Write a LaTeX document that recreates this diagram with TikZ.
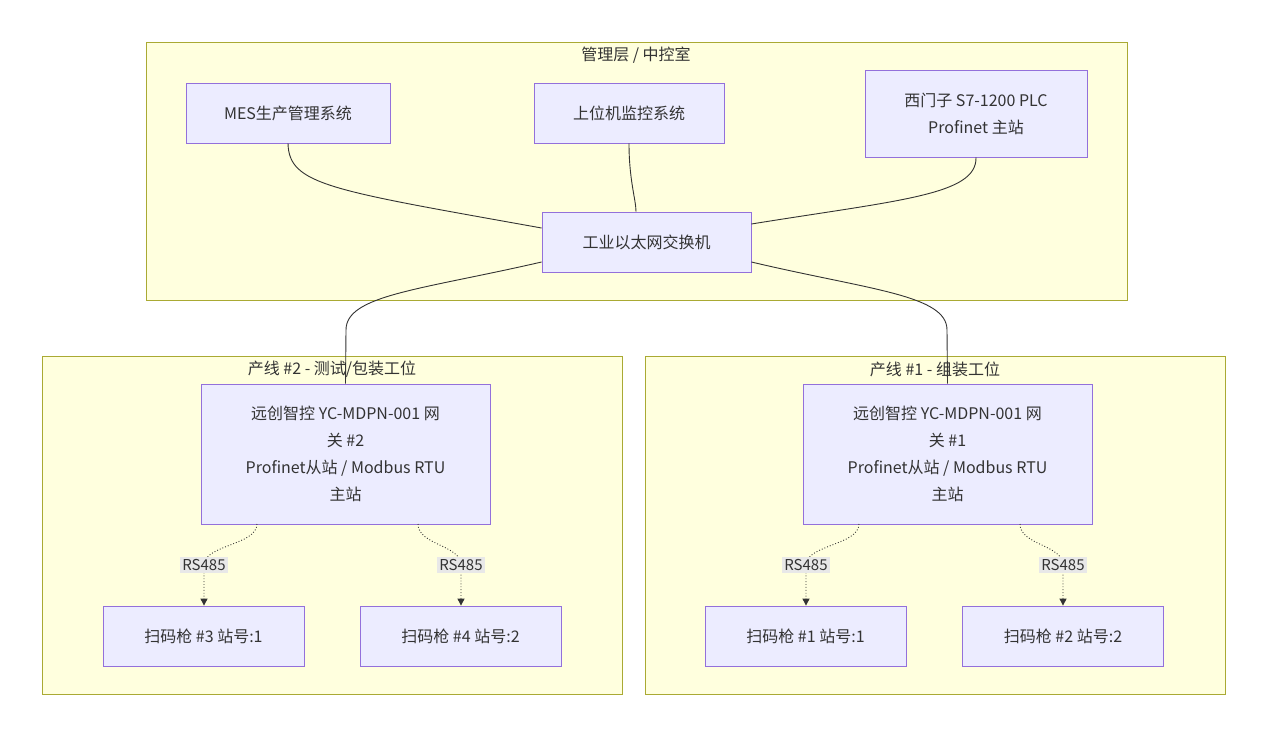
\documentclass[tikz,border=0pt]{standalone}
\usepackage{fontspec}
\setmainfont{Noto Sans CJK SC}
\usetikzlibrary{arrows.meta}
\definecolor{cf}{HTML}{FFFFDE}\definecolor{cs}{HTML}{AAAA33}
\definecolor{nf}{HTML}{ECECFF}\definecolor{ns}{HTML}{9370DB}
\definecolor{tx}{HTML}{333333}\definecolor{lb}{HTML}{E8E8E8}
\begin{document}
\begin{tikzpicture}[x=1pt,y=-1pt,
 clu/.style={draw=cs,fill=cf,line width=0.8pt},
 nd/.style={draw=ns,fill=nf,line width=0.8pt,text=tx,font=\fontsize{16}{27}\selectfont,align=center},
 tt/.style={text=tx,font=\fontsize{16}{20}\selectfont},
 ln/.style={draw=tx,line width=0.9pt},
 dl/.style={draw=tx,line width=0.9pt,dotted,-{Triangle[length=7pt,width=7pt]}},
 lab/.style={fill=lb,text=tx,font=\fontsize{15}{18}\selectfont,inner sep=2pt}]
\useasboundingbox (0,0) rectangle (1267,737);
\fill[white] (0,0) rectangle (1267,737);
\draw[clu] (146,42) rectangle (1127,300);
\draw[clu] (42,356) rectangle (622,694);
\draw[clu] (645,356) rectangle (1225,694);
\node[tt] (t0) at (636,55) {管理层 / 中控室};
\node[tt] (t2) at (332,369) {产线 \#2 - 测试/包装工位};
\node[tt] (t1) at (935,369) {产线 \#1 - 组装工位};
\node[nd,minimum width=204pt,minimum height=60pt] (mes) at (288,113) {MES生产管理系统};
\node[nd,minimum width=190pt,minimum height=60pt] (hmi) at (629,113) {上位机监控系统};
\node[nd,minimum width=222pt,minimum height=87pt] (plc) at (976,113.5) {西门子 S7-1200 PLC\\Profinet 主站};
\node[nd,minimum width=209pt,minimum height=60pt] (sw) at (646.5,242) {工业以太网交换机};
\node[nd,minimum width=289pt,minimum height=140pt] (g2) at (345.5,454) {远创智控 YC-MDPN-001 网\\关 \#2\\Profinet从站 / Modbus RTU\\主站};
\node[nd,minimum width=289pt,minimum height=140pt] (g1) at (947.5,454) {远创智控 YC-MDPN-001 网\\关 \#1\\Profinet从站 / Modbus RTU\\主站};
\node[nd,minimum width=201pt,minimum height=60pt] (s3) at (203.5,636) {扫码枪 \#3 站号:1};
\node[nd,minimum width=201pt,minimum height=60pt] (s4) at (460.5,636) {扫码枪 \#4 站号:2};
\node[nd,minimum width=201pt,minimum height=60pt] (s1) at (805.5,636) {扫码枪 \#1 站号:1};
\node[nd,minimum width=201pt,minimum height=60pt] (s2) at (1063,636) {扫码枪 \#2 站号:2};
\draw[ln] (mes.south) .. controls (289,185) and (330,190) .. (sw.west |- 0,228);
\draw[ln] (hmi.south) .. controls (629,180) and (636,200) .. (sw.north -| 636,0);
\draw[ln] (plc.south) .. controls (977,195) and (900,200) .. (sw.east |- 0,224);
\draw[ln] (sw.west |- 0,262) .. controls (420,290) and (346,295) .. (346,330) -- (g2.north);
\draw[ln] (sw.east |- 0,262) .. controls (870,290) and (947,295) .. (947,330) -- (g1.north);
\foreach \g/\s/\x/\y in {g2/s3/257/204,g2/s4/418/461,g1/s1/859/806,g1/s2/1020/1063}{
 \draw[dl] (\x,524) .. controls (\x,545) and (\y,545) .. (\y,565) -- (\s.north -| \y,0);
 \node[lab] at (\y,565) {RS485};}
\end{tikzpicture}
\end{document}
